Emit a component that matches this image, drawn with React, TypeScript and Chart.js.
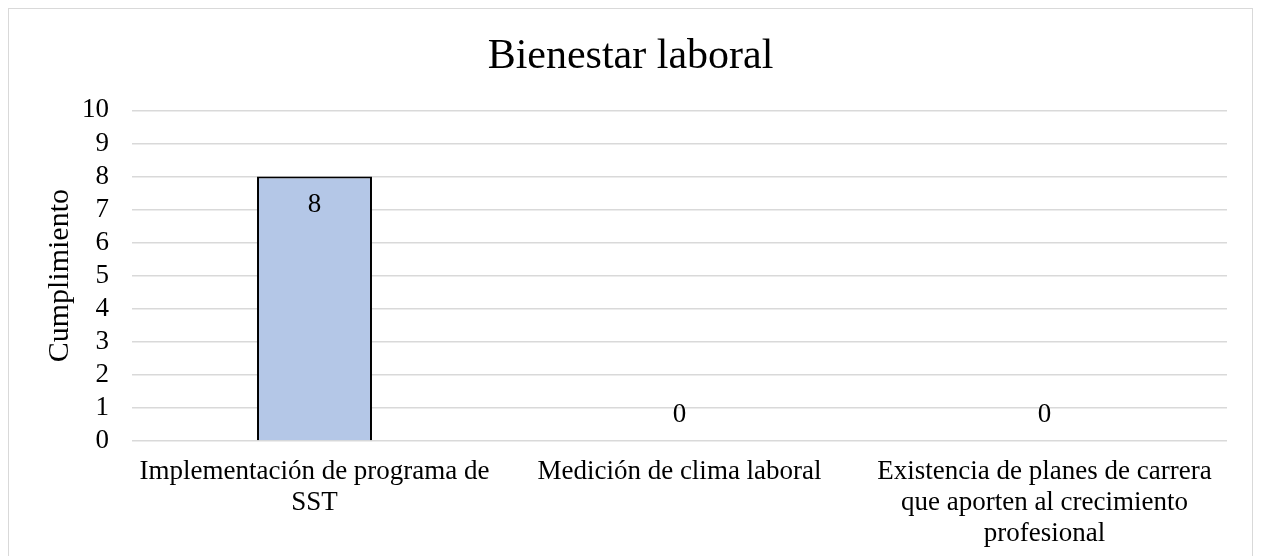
import { useEffect, useRef } from 'react';
import { Chart, registerables } from 'chart.js';

Chart.register(...registerables);

const chartTitle = 'Bienestar laboral';
const yAxisTitle = 'Cumplimiento';
const categories: string[][] = [
  ['Implementación de programa de', 'SST'],
  ['Medición de clima laboral'],
  ['Existencia de planes de carrera', 'que aporten al crecimiento', 'profesional'],
];
const values: number[] = [8, 0, 0];
const yMin = 0;
const yMax = 10;
const yStep = 1;

const FONT = '"Liberation Serif", "Times New Roman", serif';

const valueLabels = {
  id: 'valueLabels',
  afterDatasetsDraw(chart: any) {
    const ctx = chart.ctx;
    const meta = chart.getDatasetMeta(0);
    ctx.save();
    ctx.font = `27px ${FONT}`;
    ctx.fillStyle = '#000000';
    ctx.textAlign = 'center';
    ctx.textBaseline = 'middle';
    meta.data.forEach((el: any, i: number) => {
      const v = values[i];
      const { x, y } = el.getProps(['x', 'y'], true);
      const dy = v > 0 ? 28 : -26;
      ctx.fillText(String(v), x, y + dy);
    });
    ctx.restore();
  },
};

export default function App() {
  const ref = useRef<HTMLCanvasElement | null>(null);

  useEffect(() => {
    if (!ref.current) return;
    const chart = new Chart(ref.current, {
      type: 'bar',
      data: {
        labels: categories,
        datasets: [
          {
            data: values,
            backgroundColor: '#b4c7e7',
            borderColor: '#000000',
            borderWidth: 2,
            barPercentage: 0.315,
            categoryPercentage: 1,
          },
        ],
      },
      options: {
        animation: false,
        responsive: true,
        maintainAspectRatio: false,
        layout: { padding: { left: 0, right: 0, top: 0, bottom: 0 } },
        plugins: {
          legend: { display: false },
          tooltip: { enabled: false },
          title: {
            display: true,
            text: chartTitle,
            color: '#000000',
            font: { family: FONT, size: 42, weight: 'normal', lineHeight: 1.2 },
            padding: { top: 23, bottom: 28 },
          },
        },
        scales: {
          x: {
            grid: { display: false, drawTicks: false },
            border: { display: false },
            ticks: {
              color: '#000000',
              font: { family: FONT, size: 27, lineHeight: 1.15 },
              padding: 15,
              maxRotation: 0,
              minRotation: 0,
              autoSkip: false,
            },
            afterFit(scale: any) {
              scale.height = 126;
            },
          },
          y: {
            min: yMin,
            max: yMax,
            grid: { color: '#d9d9d9', lineWidth: 1.5, drawTicks: false },
            border: { display: false },
            ticks: {
              stepSize: yStep,
              autoSkip: false,
              color: '#000000',
              font: { family: FONT, size: 27 },
              padding: 23,
            },
            title: {
              display: true,
              text: yAxisTitle,
              color: '#000000',
              font: { family: FONT, size: 30, lineHeight: 1.2 },
              padding: { top: 33, bottom: 0 },
            },
            afterFit(scale: any) {
              scale.width = 123;
            },
          },
          rightSpace: {
            type: 'linear',
            position: 'right',
            display: true,
            grid: { display: false, drawTicks: false },
            border: { display: false },
            ticks: { display: false },
            afterFit(scale: any) {
              scale.width = 25;
            },
          },
        },
      },
      plugins: [valueLabels],
    });
    return () => chart.destroy();
  }, []);

  return (
    <div
      style={{
        width: 1243,
        height: 558,
        border: '1px solid #d9d9d9',
        position: 'relative',
        background: '#ffffff',
      }}
    >
      <canvas ref={ref} />
    </div>
  );
}
